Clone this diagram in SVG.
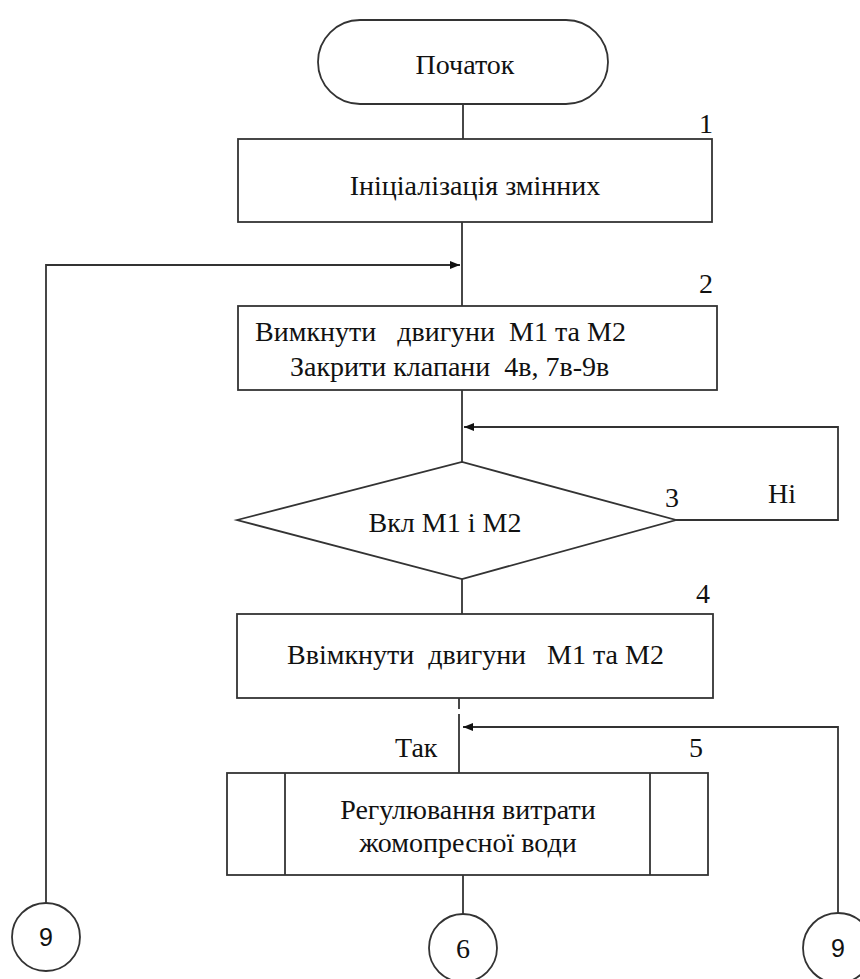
<svg xmlns="http://www.w3.org/2000/svg" width="860" height="979" viewBox="0 0 860 979">
<defs>
<style>
.s{fill:#fff;stroke:#333;stroke-width:1.8}
.c{fill:none;stroke:#333;stroke-width:1.8}
.t{font-family:"Times New Roman",Times,"Liberation Serif",Tinos,"Noto Serif","FreeSerif","DejaVu Serif",serif;font-size:28px;fill:#111;white-space:pre}
.m{text-anchor:middle}
.d{font-family:"Liberation Sans",Arial,sans-serif;font-size:25px;fill:#111;text-anchor:middle}
</style>
<marker id="ah" viewBox="0 0 10 10" refX="10" refY="5" markerWidth="10" markerHeight="10" markerUnits="userSpaceOnUse" orient="auto">
<path d="M0,1 L10,5 L0,9 Z" fill="#111"/>
</marker>
</defs>
<rect width="860" height="979" fill="#fff"/>
<g id="connectors">
<line class="c" x1="463" y1="104" x2="463" y2="139"/>
<line class="c" x1="462" y1="222" x2="462" y2="306"/>
<path class="c" d="M46,903 V265 H460" marker-end="url(#ah)"/>
<line class="c" x1="462" y1="390" x2="462" y2="462"/>
<path class="c" d="M676,520 H838 V427 H464" marker-end="url(#ah)"/>
<line class="c" x1="462" y1="579" x2="462" y2="614"/>
<line class="c" x1="459" y1="698" x2="459" y2="709"/>
<line class="c" x1="459" y1="714" x2="459" y2="773"/>
<path class="c" d="M838,913 V727 H463" marker-end="url(#ah)"/>
<line class="c" x1="463" y1="875" x2="463" y2="914"/>
<text class="t" x="395" y="757">Так</text>
<text class="t" x="768" y="503">Ні</text>
</g>
<g id="start">
<rect class="s" x="318" y="20" width="290" height="84" rx="42"/>
<text class="t m" x="465" y="74">Початок</text>
</g>
<g id="n1">
<rect class="s" x="238" y="139" width="474" height="83"/>
<text class="t m" x="475" y="195">Ініціалізація змінних</text>
<text class="t m" x="706" y="133">1</text>
</g>
<g id="n2">
<rect class="s" x="238" y="306" width="479" height="84"/>
<text class="t" x="255" y="341">Вимкнути   двигуни  М1 та М2</text>
<text class="t" x="290" y="376">Закрити клапани  4в, 7в-9в</text>
<text class="t m" x="706" y="293">2</text>
</g>
<g id="n3">
<polygon class="s" points="237,520 462,462 676,520 462,579"/>
<text class="t m" x="445" y="532">Вкл М1 і М2</text>
<text class="t m" x="672" y="507">3</text>
</g>
<g id="n4">
<rect class="s" x="237" y="614" width="476" height="84"/>
<text class="t" x="287" y="664">Ввімкнути  двигуни   М1 та М2</text>
<text class="t m" x="703" y="603">4</text>
</g>
<g id="n5">
<rect class="s" x="227" y="773" width="481" height="102"/>
<line class="c" x1="285" y1="773" x2="285" y2="875"/>
<line class="c" x1="650" y1="773" x2="650" y2="875"/>
<text class="t m" x="468" y="819">Регулювання витрати</text>
<text class="t m" x="468" y="852">жомопресної води</text>
<text class="t m" x="696" y="757">5</text>
</g>
<g id="c9left">
<circle class="s" cx="46" cy="937" r="34"/>
<text class="d" x="46" y="946">9</text>
</g>
<g id="c6">
<circle class="s" cx="463" cy="948" r="34"/>
<text class="t m" x="463" y="958">6</text>
</g>
<g id="c9right">
<circle class="s" cx="838" cy="948" r="35"/>
<text class="d" x="838" y="957">9</text>
</g>
</svg>
